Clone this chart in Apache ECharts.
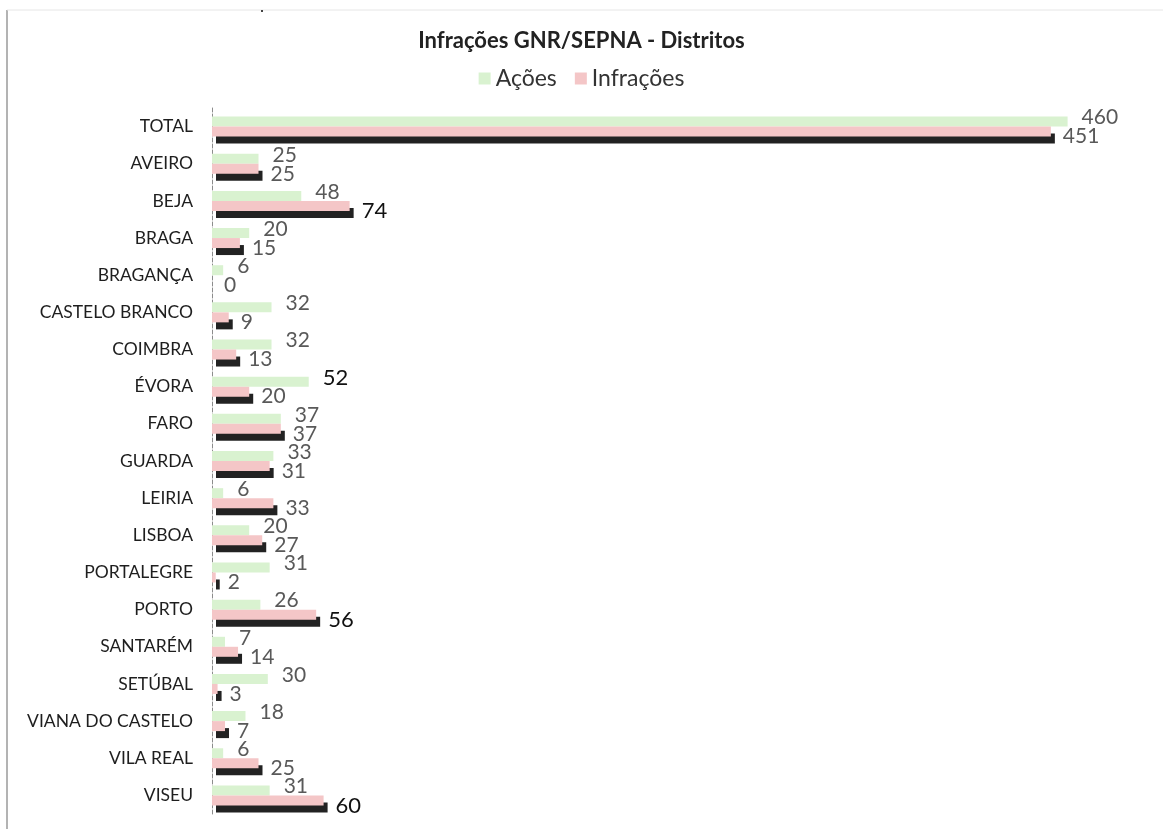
<!DOCTYPE html>
<html>
<head>
<meta charset="utf-8">
<title>Infrações GNR/SEPNA - Distritos</title>
<script src="https://cdn.jsdelivr.net/npm/echarts@6/dist/echarts.min.js"></script>
<style>
  html, body { margin: 0; padding: 0; background: #ffffff; }
  #chart { width: 1163px; height: 829px; }
</style>
</head>
<body>
<div id="chart"></div>
<script>
// Districts, top to bottom
const districts = [
  'TOTAL', 'AVEIRO', 'BEJA', 'BRAGA', 'BRAGANÇA', 'CASTELO BRANCO', 'COIMBRA',
  'ÉVORA', 'FARO', 'GUARDA', 'LEIRIA', 'LISBOA', 'PORTALEGRE', 'PORTO',
  'SANTARÉM', 'SETÚBAL', 'VIANA DO CASTELO', 'VILA REAL', 'VISEU'
];
const acoes = [460, 25, 48, 20, 6, 32, 32, 52, 37, 33, 6, 20, 31, 26, 7, 30, 18, 6, 31];
const infracoes = [451, 25, 74, 15, 0, 9, 13, 20, 37, 31, 33, 27, 2, 56, 14, 3, 7, 25, 60];
// values whose labels are printed in dark, larger type
const acoesDark = ['ÉVORA'];
const infracoesDark = ['BEJA', 'PORTO', 'VISEU'];

const FONT = 'Lato, "Noto Sans", sans-serif';

function withLabels(values, darkList) {
  return values.map((v, i) => {
    const item = { value: v };
    if (darkList.includes(districts[i])) {
      item.label = { color: '#111111', fontSize: 22 };
    }
    return item;
  });
}

const chart = echarts.init(document.getElementById('chart'), null, { renderer: 'canvas' });

chart.setOption({
  backgroundColor: '#ffffff',
  animation: false,
  textStyle: { fontFamily: FONT },
  title: {
    text: 'Infrações GNR/SEPNA - Distritos',
    left: 'center',
    top: 25,
    textStyle: { fontFamily: FONT, fontSize: 22, fontWeight: 'bold', color: '#222222' }
  },
  legend: {
    top: 62,
    left: 'center',
    icon: 'rect',
    itemWidth: 12,
    itemHeight: 12,
    itemGap: 18,
    textStyle: { fontFamily: FONT, fontSize: 23, color: '#333333' },
    data: ['Ações', 'Infrações']
  },
  grid: { left: 212, right: 21, top: 108, bottom: 15, containLabel: false },
  xAxis: {
    type: 'value',
    min: 0,
    max: 500,
    show: false
  },
  yAxis: {
    type: 'category',
    inverse: true,
    data: districts,
    axisLine: { show: true, lineStyle: { color: '#8c8c8c', width: 1, type: [4, 2] } },
    axisTick: { show: false },
    axisLabel: { fontFamily: FONT, fontSize: 17.5, color: '#1e1e1e', margin: 19 }
  },
  graphic: [
    { type: 'line', silent: true, shape: { x1: 7, y1: 10, x2: 7, y2: 829 },
      style: { stroke: '#9a9a9a', lineWidth: 1.5 } },
    { type: 'line', silent: true, shape: { x1: 7, y1: 10, x2: 1163, y2: 10 },
      style: { stroke: '#e6e6e6', lineWidth: 1 } },
    { type: 'rect', silent: true, shape: { x: 261, y: 10, width: 2, height: 2 },
      style: { fill: '#444444' } }
  ],
  series: [
    {
      name: 'Ações',
      type: 'bar',
      data: withLabels(acoes, acoesDark),
      barWidth: 10,
      barGap: '0%',
      itemStyle: { color: '#d9f2d0' },
      label: {
        show: true,
        position: 'right',
        distance: 14,
        offset: [0, -4],
        fontFamily: FONT,
        fontSize: 21,
        color: '#595959'
      }
    },
    {
      name: 'Infrações',
      type: 'bar',
      data: withLabels(infracoes, infracoesDark),
      barWidth: 10,
      itemStyle: {
        color: '#f4c6c7',
        shadowColor: '#222222',
        shadowBlur: 0,
        shadowOffsetX: 4,
        shadowOffsetY: 7
      },
      label: {
        show: true,
        position: 'right',
        distance: 12,
        offset: [0, 5],
        fontFamily: FONT,
        fontSize: 21,
        color: '#595959'
      }
    }
  ]
});
</script>
</body>
</html>
